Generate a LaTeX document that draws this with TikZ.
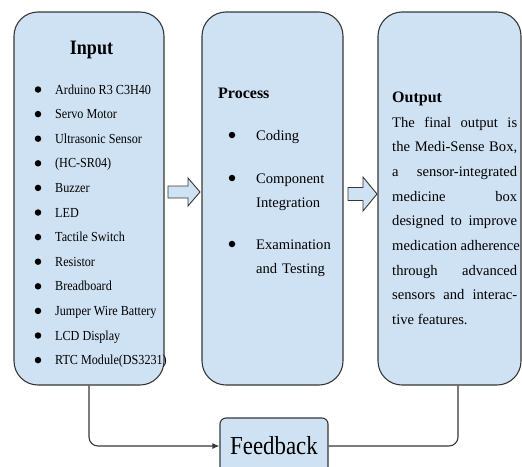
\documentclass[tikz,border=0pt]{standalone}
\usepackage{fontspec}
\setmainfont{Liberation Serif}
\newfontfamily\narrowserif[FakeStretch=0.88]{Liberation Serif}
\usetikzlibrary{arrows.meta}
\definecolor{boxblue}{RGB}{207,226,243}
\definecolor{edgegray}{RGB}{55,55,55}
\tikzset{
  panel/.style={draw=edgegray, fill=boxblue, line width=1.1pt, rounded corners=24pt, inner sep=0pt, minimum height=373pt},
  dot/.style={circle, fill=black, inner sep=0pt, minimum size=6.5pt},
  smallitem/.style={anchor=base west, inner sep=0pt, font=\narrowserif\fontsize{13.8}{16}\selectfont},
  bigitem/.style={anchor=base west, inner sep=0pt, text width=82pt, align=left, font=\fontsize{14.6}{24.7}\selectfont},
  heading/.style={anchor=base west, inner sep=0pt, font=\bfseries\fontsize{16}{18}\selectfont},
  blockarrow/.style={draw=edgegray, fill=boxblue, line width=0.9pt, line join=miter},
  link/.style={draw=edgegray, line width=1.1pt, rounded corners=9pt}
}

\begin{document}
\begin{tikzpicture}[x=1pt, y=-1pt]
			%%%%% START %%%%%
			\useasboundingbox (0,0) rectangle (522,466);
			
			\node[panel, minimum width=150pt] (input) at (89,198.5) {};
			\node[panel, minimum width=141pt] (process) at (272.5,198.5) {};
			\node[panel, minimum width=143pt] (output) at (449.5,198.5) {};
			
			\node[anchor=base, inner sep=0pt, font=\narrowserif\bfseries\fontsize{20.5}{22}\selectfont] (intitle) at (91.5,54) {Input};
			\foreach \name [count=\i from 0] in {Arduino R3 C3H40, Servo Motor, Ultrasonic Sensor, (HC-SR04), Buzzer, LED, Tactile Switch, Resistor, Breadboard, Jumper Wire Battery, LCD Display, RTC Module(DS3231)}
			{
				\node[dot] (indot\i) at (38,89.5+24.6*\i) {};
				\node[smallitem] (initem\i) at (55,94+24.6*\i) {\name};
			}
			
			\node[heading] (proctitle) at (218,98) {Process};
			\node[dot] (procdot1) at (232,135) {};
			\node[bigitem] (procitem1) at (256,140) {Coding};
			\node[dot] (procdot2) at (232,178) {};
			\node[bigitem] (procitem2) at (256,183) {Component\\Integration};
			\node[dot] (procdot3) at (232,244) {};
			\node[bigitem] (procitem3) at (256,249) {Examination\\and Testing};
			
			\node[heading] (outtitle) at (392,102) {Output};
			\node[anchor=base west, inner sep=0pt, text width=125pt, align=justify, font=\fontsize{14.6}{24.7}\selectfont]
			      (outtext) at (392,127) {\tolerance=10000 The final output is\linebreak the Medi-Sense Box,\linebreak a sensor-integrated\linebreak medicine box\linebreak designed to improve\linebreak \mbox{medication adherence}\linebreak through advanced\linebreak sensors and interac-\linebreak tive features.};
			
			\draw[blockarrow] (168,186) -- (188,186) -- (188,178) -- (200,192) -- (188,206) -- (188,198) -- (168,198) -- cycle;
			\draw[blockarrow] (348,187.5) -- (363,187.5) -- (363,177) -- (377,194) -- (363,211) -- (363,200.5) -- (348,200.5) -- cycle;
			
			\node[draw=edgegray, fill=boxblue, line width=1.1pt, rounded corners=6pt, minimum width=108pt, minimum height=56pt, font=\narrowserif\fontsize{26}{28}\selectfont] (feedback) at (274,446) {Feedback};
			
			\draw[link, -{Latex[length=7pt,width=6pt]}] (input.south) |- (feedback.west);
			\draw[link] ([xshift=8.5pt]output.south) |- (feedback.east);
			
			%%%%% END %%%%%
		\end{tikzpicture}
\end{document}
